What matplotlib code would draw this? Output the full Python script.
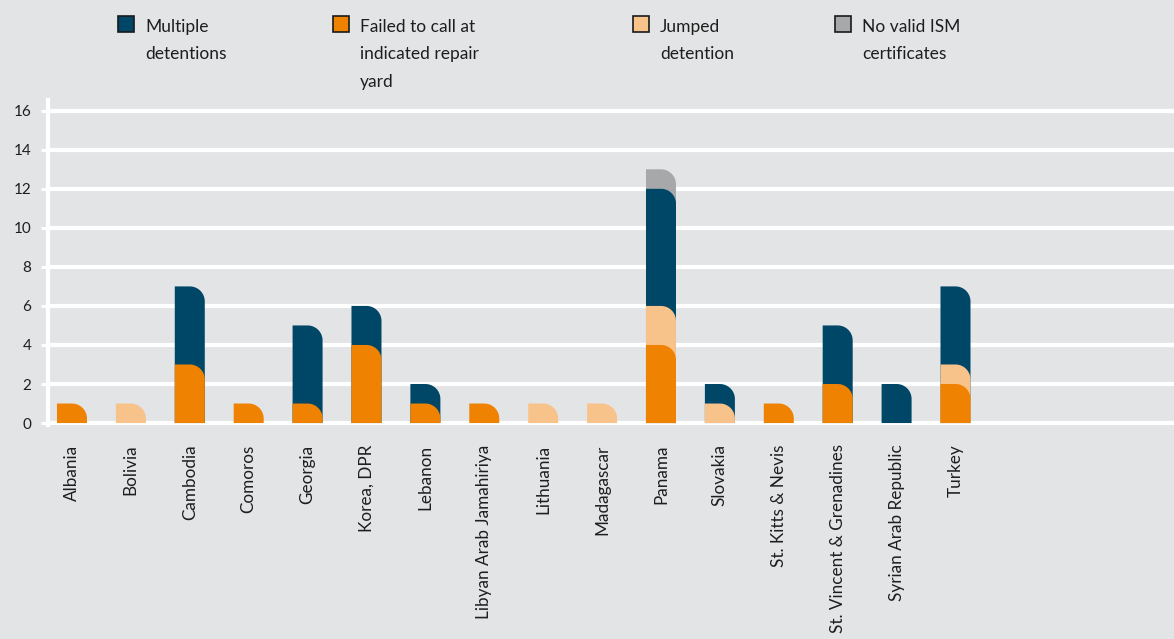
import numpy as np
import matplotlib
matplotlib.use("Agg")
import matplotlib.pyplot as plt
from matplotlib.patches import Polygon, Rectangle

plt.rcParams["font.family"] = ["Lato", "DejaVu Sans"]

# Detentions per flag state, split by reason
countries = ["Albania", "Bolivia", "Cambodia", "Comoros", "Georgia", "Korea, DPR",
             "Lebanon", "Libyan Arab Jamahiriya", "Lithuania", "Madagascar", "Panama",
             "Slovakia", "St. Kitts & Nevis", "St. Vincent & Grenadines",
             "Syrian Arab Republic", "Turkey"]
failed_repair = [1, 0, 3, 1, 1, 4, 1, 1, 0, 0, 4, 0, 1, 2, 0, 2]
jumped = [0, 1, 0, 0, 0, 0, 0, 0, 1, 1, 2, 1, 0, 0, 0, 1]
multiple = [0, 0, 4, 0, 4, 2, 1, 0, 0, 0, 6, 1, 0, 3, 2, 4]
no_ism = [0, 0, 0, 0, 0, 0, 0, 0, 0, 0, 1, 0, 0, 0, 0, 0]

series_labels = ["Multiple\ndetentions", "Failed to call at\nindicated repair\nyard",
                 "Jumped\ndetention", "No valid ISM\ncertificates"]

C_NAVY = "#004666"
C_ORANGE = "#EF8200"
C_PEACH = "#F8C38B"
C_GREY = "#A7A8AA"
BG = "#E3E4E5"
TXT = "#1e1e1e"

W, H, DPI = 1174, 639, 100
fig = plt.figure(figsize=(W / DPI, H / DPI), dpi=DPI, facecolor=BG)
ax = fig.add_axes([48 / W, 1 - 425 / H, 1 - 48 / W, (425 - 100) / H])
ax.set_facecolor(BG)

x = np.arange(len(countries))
ax.set_xlim(-0.407, (1174 - 72) / 58.9)
ax.set_ylim(-0.1, 16.55)


def rounded_bar(xc, h, width, color, r_px=15):
    # bar with only the top-right corner rounded (radius given in pixels)
    p0 = ax.transData.transform((0, 0))
    p1 = ax.transData.transform((1, 1))
    rx = r_px / (p1[0] - p0[0])
    ry = r_px / (p1[1] - p0[1])
    left, right = xc - width / 2, xc + width / 2
    t = np.linspace(np.pi / 2, 0, 20)
    arc = np.column_stack([right - rx + rx * np.cos(t), h - ry + ry * np.sin(t)])
    pts = np.vstack([[left, 0], [left, h], arc, [right, 0]])
    ax.add_patch(Polygon(pts, closed=True, facecolor=color, edgecolor="none", zorder=3))


o = np.array(failed_repair, float)
p = np.array(jumped, float)
n = np.array(multiple, float)
g = np.array(no_ism, float)
# each segment is drawn from zero up to its cumulative top, lowest segment last
layers = [(o + p + n + g, g, C_GREY), (o + p + n, n, C_NAVY),
          (o + p, p, C_PEACH), (o, o, C_ORANGE)]
bw = 30 / 58.9
for top, part, col in layers:
    for xi, hv, pv in zip(x, top, part):
        if pv > 0:
            rounded_bar(xi, hv, bw, col)

# axes styling
ax.set_yticks(range(0, 17, 2))
ax.grid(axis="y", color="white", linewidth=3, zorder=1)
ax.set_axisbelow(True)
for s in ["top", "right", "bottom"]:
    ax.spines[s].set_visible(False)
ax.spines["left"].set_color("white")
ax.spines["left"].set_linewidth(3)
ax.spines["left"].set_zorder(2)
ax.tick_params(axis="y", length=5, width=2.2, color="white", pad=7,
               labelsize=11, labelcolor=TXT)
ax.set_xticks(x)
ax.set_xticklabels(countries, rotation=90, fontsize=12.3, color=TXT)
ax.tick_params(axis="x", length=0, pad=14)

# legend along the top
legend_items = [(118, C_NAVY), (333, C_ORANGE), (633, C_PEACH), (835, C_GREY)]
for (lx, col), lab in zip(legend_items, series_labels):
    fig.patches.append(Rectangle((lx / W, 1 - 32 / H), 16 / W, 16 / H,
                                 transform=fig.transFigure, facecolor=col,
                                 edgecolor="#1a1a1a", linewidth=1.2))
    fig.text((lx + 27) / W, 1 - 19 / H, lab, fontsize=12.5, color=TXT,
             va="top", ha="left", linespacing=1.88)

fig.savefig("out.png", dpi=DPI, facecolor=BG)
